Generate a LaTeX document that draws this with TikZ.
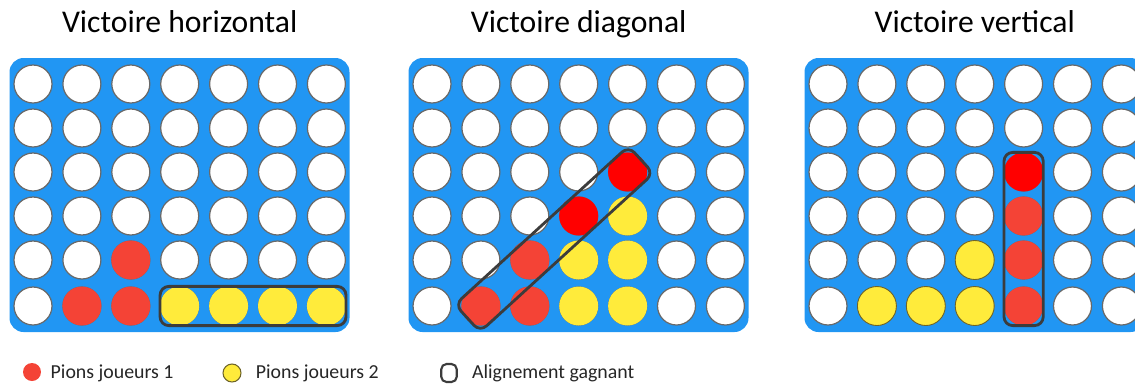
\documentclass[tikz,border=0pt]{standalone}
\usepackage{fontspec}
\setmainfont{Carlito}
\definecolor{BoardBlue}{RGB}{33, 150, 243}
\definecolor{PionRed}{RGB}{244, 67, 54}
\definecolor{PionRedVif}{RGB}{255, 0, 0}
\definecolor{PionYellow}{RGB}{255, 235, 59}
\definecolor{YellowEdge}{RGB}{110, 100, 40}
\definecolor{HoleEdge}{RGB}{105, 105, 105}
\definecolor{BoxGrey}{RGB}{60, 60, 60}
\usepackage{tikz}
\usetikzlibrary{positioning,fit,calc}

\tikzset{
  hole/.style={circle, draw=HoleEdge, line width=0.7pt, fill=white, minimum size=0.76cm, inner sep=0pt},
  pion/.style={circle, fill=#1, minimum size=0.78cm, inner sep=0pt},
  winbox/.style={draw=BoxGrey, line width=1.6pt, rounded corners=5pt, inner sep=0pt},
  checkbox/.style={draw=BoxGrey, line width=1.2pt, fill=white, rounded corners=3pt, minimum width=0.31cm, minimum height=0.36cm, inner sep=0pt},
  titre/.style={font=\fontsize{18}{20}\selectfont, text=black, inner sep=0pt},
  legtxt/.style={font=\fontsize{11.3}{13}\selectfont, text=black!85, inner sep=0pt}
}

\begin{document}
\begin{tikzpicture}[x=0.02cm, y=0.02cm]
  \useasboundingbox (0,0) rectangle (1135,387);
  \foreach \brd/\xo in {a/33, b/432, c/828} {
    \fill[BoardBlue, rounded corners=8pt] (\xo-23.5,55) rectangle (\xo+316.5,329);
    \foreach \c in {0,...,6}
      \foreach \r/\yy in {0/303, 1/259, 2/215, 3/171, 4/127, 5/81}
        \node[hole] (\brd-\c-\r) at (\xo+48.9*\c, \yy) {};
  }
  \foreach \pos/\clr/\edg in {a-2-4/PionRed/none, a-1-5/PionRed/none, a-2-5/PionRed/none,
      a-3-5/PionYellow/none, a-4-5/PionYellow/none, a-5-5/PionYellow/none, a-6-5/PionYellow/none,
      b-4-2/PionRedVif/none, b-3-3/PionRedVif/none, b-4-3/PionYellow/none,
      b-2-4/PionRed/none, b-3-4/PionYellow/none, b-4-4/PionYellow/none,
      b-1-5/PionRed/none, b-2-5/PionRed/none, b-3-5/PionYellow/none, b-4-5/PionYellow/none,
      c-4-2/PionRedVif/none, c-4-3/PionRed/none, c-3-4/PionYellow/YellowEdge, c-4-4/PionRed/none,
      c-1-5/PionYellow/YellowEdge, c-2-5/PionYellow/YellowEdge, c-3-5/PionYellow/YellowEdge, c-4-5/PionRed/none} {
    \node[pion=\clr, draw=\edg, line width=0.5pt] (p-\pos) at (\pos) {};
  }

  \node[winbox, fit=(a-3-5)(a-6-5)] (wa) {};
  \node[winbox, minimum width=4.7cm, minimum height=0.74cm, rotate=42.4] (wb) at ($(b-1-5)!0.5!(b-4-2)$) {};
  \node[winbox, fit=(c-4-2)(c-4-5)] (wc) {};

  \node[titre, anchor=base] (ta) at (a-3-0 |- 0,355) {Victoire horizontal};
  \node[titre, anchor=base] (tb) at (b-3-0 |- 0,355) {Victoire diagonal};
  \node[titre, anchor=base] (tc) at (c-3-0 |- 0,355) {Victoire vertical};

  \node[pion=PionRed, minimum size=0.36cm] (lr) at (32,15) {};
  \node[legtxt, anchor=base west] (lrt) at ($(lr.east)+(9,-6)$) {Pions joueurs 1};
  \node[pion=PionYellow, draw=YellowEdge, line width=0.6pt, minimum size=0.36cm] (ly) at (232,14) {};
  \node[legtxt, anchor=base west] (lyt) at ($(ly.east)+(14,-5)$) {Pions joueurs 2};
  \node[checkbox] (lw) at (449,14) {};
  \node[legtxt, anchor=base west] (lwt) at ($(lw.east)+(14,-5)$) {Alignement gagnant};
\end{tikzpicture}
\end{document}
